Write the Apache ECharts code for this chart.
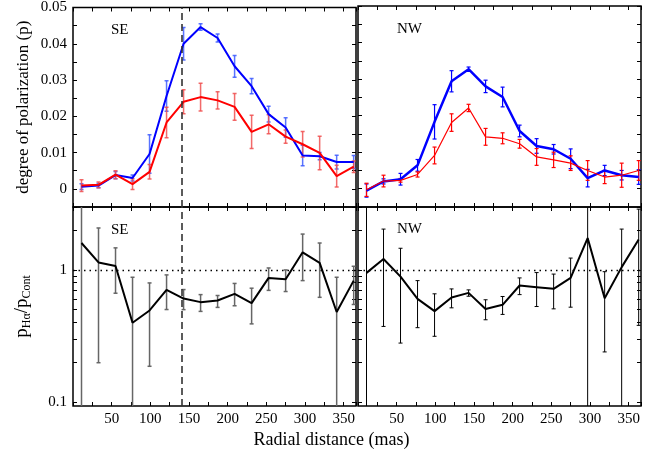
<!DOCTYPE html>
<html>
<head>
<meta charset="utf-8">
<script src="https://cdn.jsdelivr.net/npm/echarts@6.0.0/dist/echarts.min.js"></script>
<style>
  html, body { margin: 0; padding: 0; background: #fff; }
  #chart { width: 663px; height: 459px; }
</style>
</head>
<body>
<div id="chart"></div>
<script>
// radial distance of each bin (mas)
var radius = [11, 33, 55, 77, 99, 121, 143, 165, 187, 209, 231, 253, 275, 297, 319, 341, 363];

// SE side, degree of polarization
var seCont    = [0.0006, 0.0009, 0.0038, 0.0030, 0.0096, 0.0256, 0.0400, 0.0446, 0.0416, 0.0338, 0.0283, 0.0206, 0.0169, 0.0092, 0.0090, 0.0074, 0.0074];
var seContErr = [0.0008, 0.0006, 0.0010, 0.0008, 0.0053, 0.0042, 0.0045, 0.0009, 0.0011, 0.0030, 0.0021, 0.0022, 0.0027, 0.0028, 0.0010, 0.0019, 0.0018];
var seHa      = [0.0009, 0.0011, 0.0039, 0.0013, 0.0047, 0.0183, 0.0240, 0.0253, 0.0244, 0.0226, 0.0157, 0.0178, 0.0144, 0.0123, 0.0099, 0.0035, 0.0061];
var seHaErr   = [0.0016, 0.0008, 0.0011, 0.0015, 0.0020, 0.0042, 0.0033, 0.0038, 0.0024, 0.0037, 0.0046, 0.0026, 0.0018, 0.0035, 0.0046, 0.0030, 0.0016];

// NW side, degree of polarization
var nwCont    = [-0.0005, 0.0020, 0.0026, 0.0064, 0.0183, 0.0294, 0.0327, 0.0280, 0.0251, 0.0158, 0.0117, 0.0108, 0.0082, 0.0029, 0.0050, 0.0037, 0.0032];
var nwContErr = [0.0018, 0.0007, 0.0016, 0.0016, 0.0047, 0.0029, 0.0006, 0.0017, 0.0027, 0.0016, 0.0020, 0.0013, 0.0027, 0.0024, 0.0014, 0.0013, 0.0020];
var nwHa      = [-0.0003, 0.0021, 0.0023, 0.0039, 0.0091, 0.0181, 0.0221, 0.0142, 0.0138, 0.0123, 0.0087, 0.0079, 0.0070, 0.0050, 0.0032, 0.0037, 0.0050];
var nwHaErr   = [0.0018, 0.0016, 0.0005, 0.0007, 0.0023, 0.0024, 0.0010, 0.0023, 0.0015, 0.0012, 0.0023, 0.0021, 0.0020, 0.0027, 0.0018, 0.0033, 0.0027];

// ratio pHa / pCont with lower / upper error limits
var seRatio   = [1.60, 1.14, 1.07, 0.398, 0.493, 0.706, 0.607, 0.570, 0.586, 0.659, 0.560, 0.870, 0.850, 1.36, 1.13, 0.480, 0.830];
var seRatioLo = [0.05, 0.198, 0.666, 0.05, 0.186, 0.501, 0.500, 0.485, 0.520, 0.535, 0.390, 0.700, 0.686, 0.830, 0.620, 0.05, 0.547];
var seRatioHi = [5.0, 2.08, 1.47, 0.880, 0.797, 0.917, 0.710, 0.650, 0.640, 0.790, 0.727, 1.035, 1.000, 1.87, 1.60, 0.880, 1.066];
var nwRatio   = [0.95, 1.21, 0.89, 0.604, 0.487, 0.618, 0.670, 0.505, 0.544, 0.762, 0.740, 0.719, 0.870, 1.745, 0.611, 1.05, 1.70];
var nwRatioLo = [0.05, 0.373, 0.279, 0.365, 0.314, 0.516, 0.632, 0.419, 0.460, 0.650, 0.528, 0.507, 0.522, 0.05, 0.239, 0.05, 0.380];
var nwRatioHi = [5.0, 2.04, 1.46, 0.830, 0.659, 0.718, 0.706, 0.594, 0.629, 0.870, 0.955, 0.930, 1.23, 5.0, 0.970, 2.04, 2.89];

var xTicks = [50, 100, 150, 200, 250, 300, 350];
var logLabels = [0.1, 1];
var logTicks = [0.1, 0.2, 0.3, 0.4, 0.5, 0.6, 0.7, 0.8, 0.9, 1, 2, 3];
var dashX = 140;

var serif = 'Liberation Serif';
var chart = echarts.init(document.getElementById('chart'));

function pm(v, e, s) {
    return v.map(function (d, i) { return d + s * e[i]; });
}

// error bars as custom series
function errBars(xi, yi, lo, hi, color, width) {
    return {
        type: 'custom',
        xAxisIndex: xi,
        yAxisIndex: yi,
        clip: true,
        z: 2,
        renderItem: function (params, api) {
            var x = api.value(0);
            var a = api.coord([x, api.value(1)]);
            var b = api.coord([x, api.value(2)]);
            var c = 2;
            var st = { stroke: color, lineWidth: width };
            return {
                type: 'group',
                children: [
                    { type: 'line', shape: { x1: a[0], y1: a[1], x2: b[0], y2: b[1] }, style: st },
                    { type: 'line', shape: { x1: a[0] - c, y1: a[1], x2: a[0] + c, y2: a[1] }, style: st },
                    { type: 'line', shape: { x1: b[0] - c, y1: b[1], x2: b[0] + c, y2: b[1] }, style: st }
                ]
            };
        },
        data: radius.map(function (x, i) { return [x, lo[i], hi[i]]; })
    };
}

function line(xi, yi, vals, color, width) {
    return {
        type: 'line',
        xAxisIndex: xi,
        yAxisIndex: yi,
        showSymbol: false,
        z: 3,
        lineStyle: { color: color, width: width },
        itemStyle: { color: color },
        data: radius.map(function (x, i) { return [x, vals[i]]; })
    };
}

var grids = [
    { left: 73, top: 6, width: 283, height: 201 },
    { left: 358, top: 6, width: 283, height: 201 },
    { left: 73, top: 207, width: 283, height: 199 },
    { left: 358, top: 207, width: 283, height: 199 }
];
grids.forEach(function (g) {
    g.show = true;
    g.borderColor = '#000';
    g.borderWidth = 1.5;
    g.containLabel = false;
});

var tickStyle = { inside: true, length: 4, lineStyle: { color: '#000', width: 1 } };

function xAx(gi, pos, labels) {
    return {
        type: 'value',
        gridIndex: gi,
        position: pos,
        min: 0,
        max: 366,
        interval: 25,
        axisLine: { show: false, onZero: false },
        axisTick: tickStyle,
        splitLine: { show: false },
        axisLabel: {
            show: labels,
            color: '#000',
            fontFamily: serif,
            fontSize: 15,
            margin: 6,
            formatter: function (v) { return xTicks.indexOf(v) >= 0 ? String(v) : ''; }
        }
    };
}

function yLin(gi, pos, labels) {
    return {
        type: 'value',
        gridIndex: gi,
        position: pos,
        min: -0.005,
        max: 0.05,
        interval: 0.005,
        axisLine: { show: false, onZero: false },
        axisTick: tickStyle,
        splitLine: { show: false },
        axisLabel: {
            show: labels,
            color: '#000',
            fontFamily: serif,
            fontSize: 15,
            margin: 6,
            formatter: function (v) {
                var k = Math.round(v * 1000);
                if (k < 0 || k % 10 !== 0) return '';
                return k === 0 ? '0' : v.toFixed(2);
            }
        }
    };
}

function yLog(gi, pos, labels) {
    return {
        type: 'log',
        logBase: 10,
        gridIndex: gi,
        position: pos,
        min: 0.093,
        max: 3,
        axisLine: { show: false, onZero: false },
        axisTick: { inside: true, length: 4, lineStyle: { color: '#000', width: 1 }, customValues: logTicks },
        splitLine: { show: false },
        axisLabel: {
            show: labels,
            color: '#000',
            fontFamily: serif,
            fontSize: 15,
            margin: 6,
            customValues: logLabels,
            formatter: function (v) { return String(v); }
        }
    };
}

var xAxes = [
    xAx(0, 'bottom', false), xAx(1, 'bottom', false), xAx(2, 'bottom', true), xAx(3, 'bottom', true),
    xAx(0, 'top', false), xAx(1, 'top', false), xAx(2, 'top', false), xAx(3, 'top', false)
];
var yAxes = [
    yLin(0, 'left', true), yLin(1, 'left', false), yLog(2, 'left', true), yLog(3, 'left', false),
    yLin(0, 'right', false), yLin(1, 'right', false), yLog(2, 'right', false), yLog(3, 'right', false)
];

yAxes[0].name = 'degree of polarization (p)';
yAxes[0].nameLocation = 'middle';
yAxes[0].nameRotate = 90;
yAxes[0].nameGap = 41;
yAxes[0].nameTextStyle = { fontFamily: serif, fontSize: 17, color: '#000' };

yAxes[2].name = '{p|p}{s|Hα}{p|/p}{s|Cont}';
yAxes[2].nameLocation = 'middle';
yAxes[2].nameRotate = 90;
yAxes[2].nameGap = 40;
yAxes[2].nameTextStyle = {
    fontFamily: serif, color: '#000',
    rich: {
        p: { fontFamily: serif, fontSize: 19, color: '#000', lineHeight: 22 },
        s: { fontFamily: serif, fontSize: 12, color: '#000', lineHeight: 22, verticalAlign: 'bottom', padding: [8, 0, 0, 0] }
    }
};

var dashStyle = { type: [7, 4], color: '#333', width: 1.6 };
var dotStyle = { type: [1.5, 4], color: '#000', width: 1.3 };

var series = [
    errBars(0, 0, pm(seCont, seContErr, -1), pm(seCont, seContErr, 1), 'rgba(60,90,255,0.85)', 1.5),
    errBars(0, 0, pm(seHa, seHaErr, -1), pm(seHa, seHaErr, 1), 'rgba(240,80,80,0.85)', 1.5),
    line(0, 0, seCont, '#0000ff', 2),
    line(0, 0, seHa, '#ff0000', 2),
    errBars(1, 1, pm(nwCont, nwContErr, -1), pm(nwCont, nwContErr, 1), '#0000ff', 1.2),
    errBars(1, 1, pm(nwHa, nwHaErr, -1), pm(nwHa, nwHaErr, 1), '#ff0000', 1.2),
    line(1, 1, nwCont, '#0000ff', 2.5),
    line(1, 1, nwHa, '#ff0000', 1.2),
    errBars(2, 2, seRatioLo, seRatioHi, '#666', 1.5),
    line(2, 2, seRatio, '#000', 2),
    errBars(3, 3, nwRatioLo, nwRatioHi, '#000', 1),
    line(3, 3, nwRatio, '#000', 2)
];
// dashed marker at 140 mas, dotted unity line
series[2].markLine = { silent: true, symbol: 'none', label: { show: false }, lineStyle: dashStyle, data: [{ xAxis: dashX }] };
series[9].markLine = {
    silent: true, symbol: 'none', label: { show: false }, lineStyle: dashStyle,
    data: [{ xAxis: dashX }, { yAxis: 1, lineStyle: dotStyle }]
};
series[11].markLine = { silent: true, symbol: 'none', label: { show: false }, lineStyle: dotStyle, data: [{ yAxis: 1 }] };

var option = {
    backgroundColor: '#fff',
    animation: false,
    grid: grids,
    xAxis: xAxes,
    yAxis: yAxes,
    series: series,
    graphic: [
        { type: 'text', left: 111, top: 23, style: { text: 'SE', font: '15px "Liberation Serif"', fill: '#000' } },
        { type: 'text', left: 397, top: 22, style: { text: 'NW', font: '15px "Liberation Serif"', fill: '#000' } },
        { type: 'text', left: 111, top: 223, style: { text: 'SE', font: '15px "Liberation Serif"', fill: '#000' } },
        { type: 'text', left: 397, top: 222, style: { text: 'NW', font: '15px "Liberation Serif"', fill: '#000' } },
        { type: 'text', left: 'center', top: 431, style: { text: 'Radial distance (mas)', font: '18px "Liberation Serif"', fill: '#000' } }
    ]
};
chart.setOption(option);
</script>
</body>
</html>
